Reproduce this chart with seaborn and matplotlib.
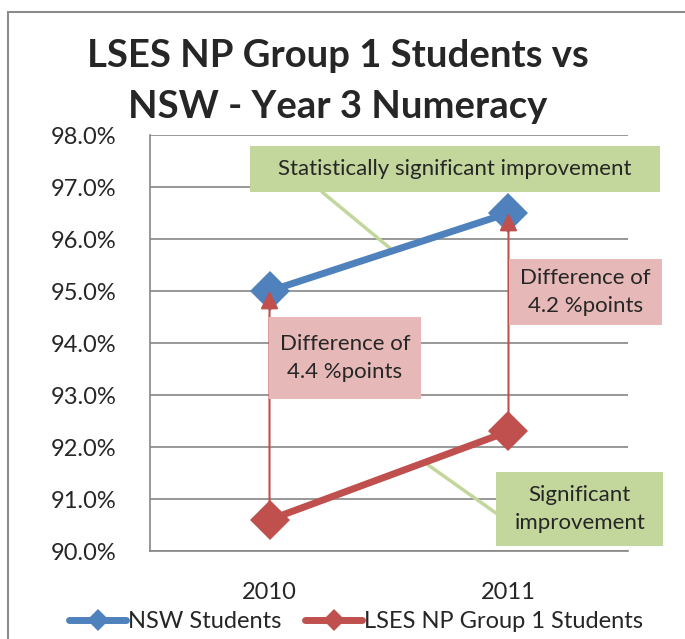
# LSES NP Group 1 vs NSW - Year 3 numeracy, line chart with callouts
import numpy as np
import pandas as pd
import seaborn as sns
import matplotlib.pyplot as plt
from matplotlib.lines import Line2D
from matplotlib.patches import Rectangle

years = ["2010", "2011"]
nsw = [95.0, 96.5]
lses = [90.6, 92.3]
series_names = ["NSW Students", "LSES NP Group 1 Students"]
colours = ["#4F81BD", "#C0504D"]
diff_labels = ["Difference of\n4.4 %points", "Difference of\n4.2 %points"]

df = pd.DataFrame({
    "year": years * 2,
    "value": nsw + lses,
    "series": [series_names[0]] * 2 + [series_names[1]] * 2,
})

sns.set_style("white")
plt.rcParams["font.family"] = ["Lato", "DejaVu Sans"]

fig = plt.figure(figsize=(6.85, 6.39), dpi=100)
ax = fig.add_axes([150 / 685, 1 - 551 / 639, 478 / 685, 416 / 639])

sns.lineplot(data=df, x="year", y="value", hue="series", palette=colours,
             marker="D", markersize=20, markeredgewidth=0, linewidth=5,
             legend=False, sort=False, ax=ax, zorder=3)

ax.set_ylim(90, 98)
ax.set_xlim(-0.5, 1.5)
ax.set_yticks(np.arange(90, 98.1, 1))
ax.set_yticklabels(["{:.1f}%".format(v) for v in np.arange(90, 98.1, 1)], fontsize=17)
ax.set_xticks([0, 1])
ax.set_xticklabels(years, fontsize=17)
ax.set_xticks([-0.5, 0.5, 1.5], minor=True)
ax.tick_params(axis="x", which="major", length=0, pad=22)
ax.tick_params(axis="x", which="minor", length=9, color="#868686", width=1.2)
ax.tick_params(axis="y", length=8, color="#868686", width=1.2, pad=16)
ax.set_xlabel("")
ax.set_ylabel("")
ax.grid(axis="y", color="#868686", lw=1.2)
ax.set_axisbelow(True)
for s in ["top", "right"]:
    ax.spines[s].set_visible(False)
for s in ["left", "bottom"]:
    ax.spines[s].set_color("#868686")
    ax.spines[s].set_linewidth(1.2)

# difference arrows from LSES up to NSW
for i in range(len(years)):
    ax.annotate("", xy=(i, nsw[i]), xytext=(i, lses[i]),
                arrowprops=dict(arrowstyle="-|>,head_length=0.6,head_width=0.3",
                                color="#C0504D", lw=1.5, mutation_scale=18,
                                shrinkA=0, shrinkB=0), zorder=4)

T = ax.transAxes
# green callouts
green = "#C3D69B"
pink = "#E6B9B8"
ax.plot([0.360, 0.502], [0.863, 0.728], transform=T, color=green, lw=2.5, zorder=2, clip_on=False)
ax.plot([0.573, 0.724], [0.214, 0.091], transform=T, color=green, lw=2.5, zorder=2, clip_on=False)
ax.add_patch(Rectangle((0.209, 0.863), 0.858, 0.111, transform=T, facecolor=green,
                       edgecolor="none", clip_on=False, zorder=5))
ax.text(0.638, 0.918, "Statistically significant improvement", transform=T,
        ha="center", va="center", fontsize=16, zorder=6)
ax.add_patch(Rectangle((0.724, 0.012), 0.35, 0.178, transform=T, facecolor=green,
                       edgecolor="none", clip_on=False, zorder=5))
ax.text(0.899, 0.101, "Significant\nimprovement", transform=T,
        ha="center", va="center", fontsize=16, linespacing=1.5, zorder=6)

# pink difference boxes
ax.add_patch(Rectangle((0.249, 0.365), 0.318, 0.1975, transform=T, facecolor=pink,
                       edgecolor="none", clip_on=False, zorder=5))
ax.text(0.408, 0.463, diff_labels[0], transform=T, ha="center", va="center",
        fontsize=16, linespacing=1.5, zorder=6)
ax.add_patch(Rectangle((0.751, 0.543), 0.32, 0.159, transform=T, facecolor=pink,
                       edgecolor="none", clip_on=False, zorder=5))
ax.text(0.911, 0.623, diff_labels[1], transform=T, ha="center", va="center",
        fontsize=16, linespacing=1.5, zorder=6)

# title
fig.text(338 / 685, 1 - 67 / 639, "LSES NP Group 1 Students vs", ha="center",
         va="baseline", fontsize=27.5, fontweight="bold")
fig.text(338 / 685, 1 - 118 / 639, "NSW - Year 3 Numeracy", ha="center",
         va="baseline", fontsize=27.5, fontweight="bold")

# legend
handles = [Line2D([], [], color=c, lw=5, marker="D", markersize=11, markeredgewidth=0)
           for c in colours]
fig.legend(handles, series_names, loc="center", bbox_to_anchor=(0.52, 1 - 622 / 639),
           ncol=2, frameon=False, fontsize=17, handlelength=2.4, handletextpad=0.1,
           columnspacing=1.0)

# chart border (cropped on the right and bottom)
fig.add_artist(Rectangle((8 / 685, -0.1), 1.2, 1 - 12 / 639 + 0.1, transform=fig.transFigure,
                         fill=False, edgecolor="#8c8c8c", lw=1.5))

fig.savefig("out.png", dpi=100)
